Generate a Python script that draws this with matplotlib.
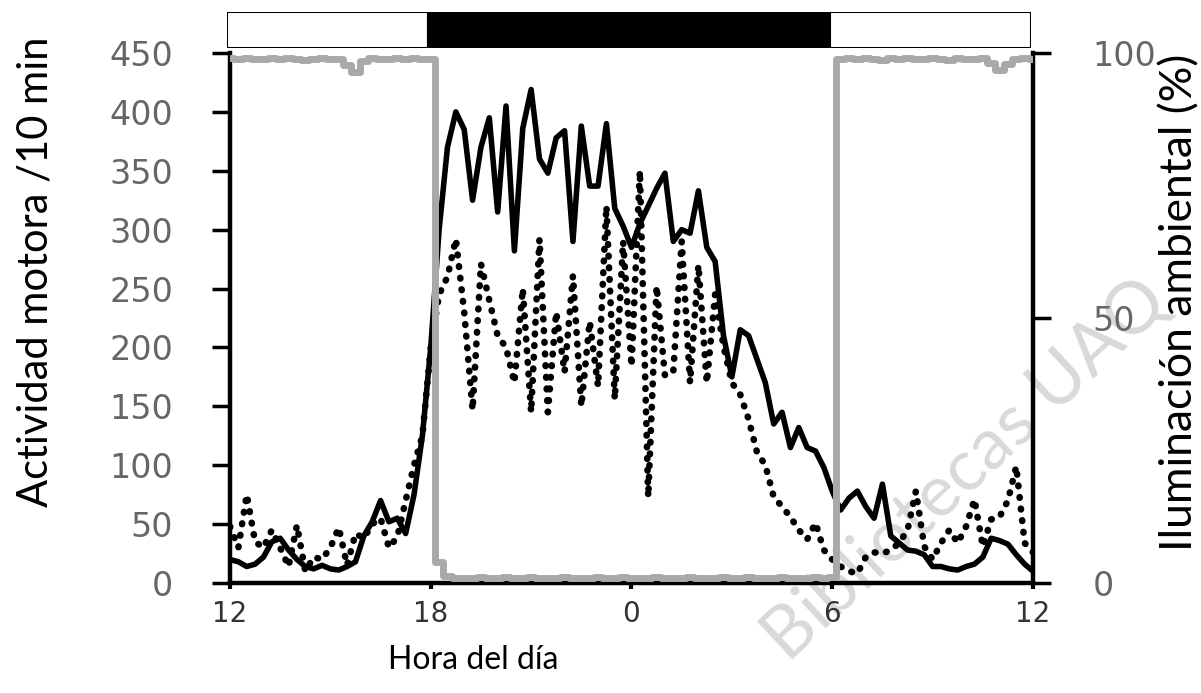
import numpy as np
import matplotlib
matplotlib.use("Agg")
import matplotlib.pyplot as plt

# ---------------- data ----------------
hours = np.arange(12, 36.01, 0.25)          # 12:00 -> 12:00 next day, 15-min bins
xtick_pos = [12, 18, 24, 30, 36]
xtick_lab = ["12", "18", "0", "6", "12"]

active = [20, 18, 14, 16, 22, 35, 38, 28, 20, 14, 12, 15, 12, 11, 14, 18, 40, 52, 70, 52, 55, 42, 75, 125, 200,
          300, 370, 400, 385, 325, 370, 395, 315, 405, 282, 386, 419, 360, 348, 378, 384, 290, 388, 337, 337, 390, 318, 303, 285,
          305, 320, 335, 348, 290, 300, 297, 333, 285, 273, 210, 175, 215, 210, 190, 170, 135, 145, 115, 132, 115, 112, 98, 78,
          62, 72, 78, 65, 55, 84, 40, 34, 28, 27, 24, 14, 14, 12, 11, 14, 16, 22, 38, 36, 33, 24, 16, 10]

control = [48, 30, 75, 35, 30, 45, 30, 14, 49, 10, 22, 20, 30, 47, 15, 42, 38, 50, 55, 30, 39, 70, 100, 125, 200,
           245, 260, 292, 230, 147, 271, 240, 210, 200, 170, 250, 145, 292, 145, 230, 179, 261, 150, 222, 167, 320, 156, 290, 184,
           350, 73, 252, 176, 180, 290, 170, 270, 170, 245, 201, 170, 160, 139, 111, 100, 73, 65, 56, 45, 37, 51, 28, 20,
           14, 10, 8, 22, 26, 25, 28, 34, 45, 78, 31, 20, 34, 45, 34, 48, 71, 31, 54, 56, 70, 99, 34, 26]

light = [99, 98.9, 99, 98.8, 98.9, 99, 98.8, 99, 98.9, 98.7, 98.9, 99, 98.8, 98.9, 97.8, 96.5, 98.5, 99, 98.8, 98.9,
         99, 98.8, 99, 98.9, 98.9,
         4, 1.3, 1, 0.9, 1, 1.1, 0.9, 1, 1.1, 0.9, 1, 1.1, 1, 0.9, 1, 1.1, 1, 0.9, 1, 1.1, 1, 0.9, 1.1, 1,
         0.9, 1, 1.1, 1, 0.9, 1, 1.1, 1, 0.9, 1, 1.1, 1, 0.9, 1.1, 1, 0.9, 1, 1.1, 1, 0.9, 1, 1.1, 1, 1.1,
         98.8, 99, 98.8, 99, 98.9, 98.7, 99, 98.8, 99, 98.8, 98.9, 99, 98.8, 98.7, 99, 98.9, 98.8, 99,
         98.2, 96.8, 98.0, 98.8, 99, 98.9]

phase_start = [12, 18, 30]
phase_len = [6, 12, 6]
phase_color = ["white", "black", "white"]

W, H = 1201, 693
fig = plt.figure(figsize=(W / 100, H / 100), dpi=100)

# watermark (behind everything)
fig.text(965 / W, 1 - 470 / H, "Bibliotecas UAQ", rotation=43, fontsize=52, color="#d9d9d9",
         ha="center", va="center", family="Lato", zorder=-5)

# ---------------- main axes ----------------
ax = fig.add_axes([230 / W, 110 / H, 803 / W, 530 / H])
ax.patch.set_visible(False)
ax.set_xlim(12, 36)
ax.set_ylim(0, 450)

ax.plot(hours, active, color="black", lw=4.0, solid_joinstyle="round", zorder=3)
ax.plot(hours, control, color="black", lw=4.8, linestyle=(0, (0.1, 1.65)),
        dash_capstyle="round", zorder=3)

ax.set_yticks(range(0, 451, 50))
ax.set_xticks(xtick_pos)
ax.set_xticklabels(xtick_lab)
ax.tick_params(axis="y", direction="out", length=13, width=2.5, pad=28, labelsize=24,
               labelcolor="#666666", color="black")
ax.tick_params(axis="x", direction="out", length=4, width=3, pad=8, labelsize=20,
               labelcolor="#333333")
for s in ["top", "right"]:
    ax.spines[s].set_visible(False)
for s in ["left", "bottom"]:
    ax.spines[s].set_linewidth(3.2)

# ---------------- light (right axis) ----------------
ax2 = ax.twinx()
ax2.patch.set_visible(False)
ax2.set_ylim(0, 100)
ax2.plot(hours, light, color="#a9a9a9", lw=5.0, drawstyle="steps-mid", zorder=4)
ax2.set_yticks([0, 50, 100])
ax2.tick_params(axis="y", direction="out", length=13, width=2.5, pad=30, labelsize=24,
                labelcolor="#666666")
for s in ["top", "left", "bottom"]:
    ax2.spines[s].set_visible(False)
ax2.spines["right"].set_linewidth(3.2)

# ---------------- light/dark bar ----------------
axb = fig.add_axes([227 / W, 1 - 48 / H, 804 / W, 36 / H])
axb.barh([0], phase_len, left=phase_start, height=1, color=phase_color,
         edgecolor="black", linewidth=1.5)
axb.set_xlim(12, 36)
axb.set_ylim(-0.5, 0.5)
axb.axis("off")

# ---------------- labels ----------------
fig.text(36 / W, 1 - 272 / H, "Actividad motora /10 min", rotation=90, fontsize=30,
         family="Lato", ha="center", va="center")
fig.text(1180 / W, 1 - 302 / H, "Iluminación ambiental (%)", rotation=90, fontsize=32,
         family="Lato", ha="center", va="center")
fig.text(473 / W, 1 - 660 / H, "Hora del día", fontsize=23, family="Lato",
         ha="center", va="center")

fig.savefig("out.png", dpi=100)
